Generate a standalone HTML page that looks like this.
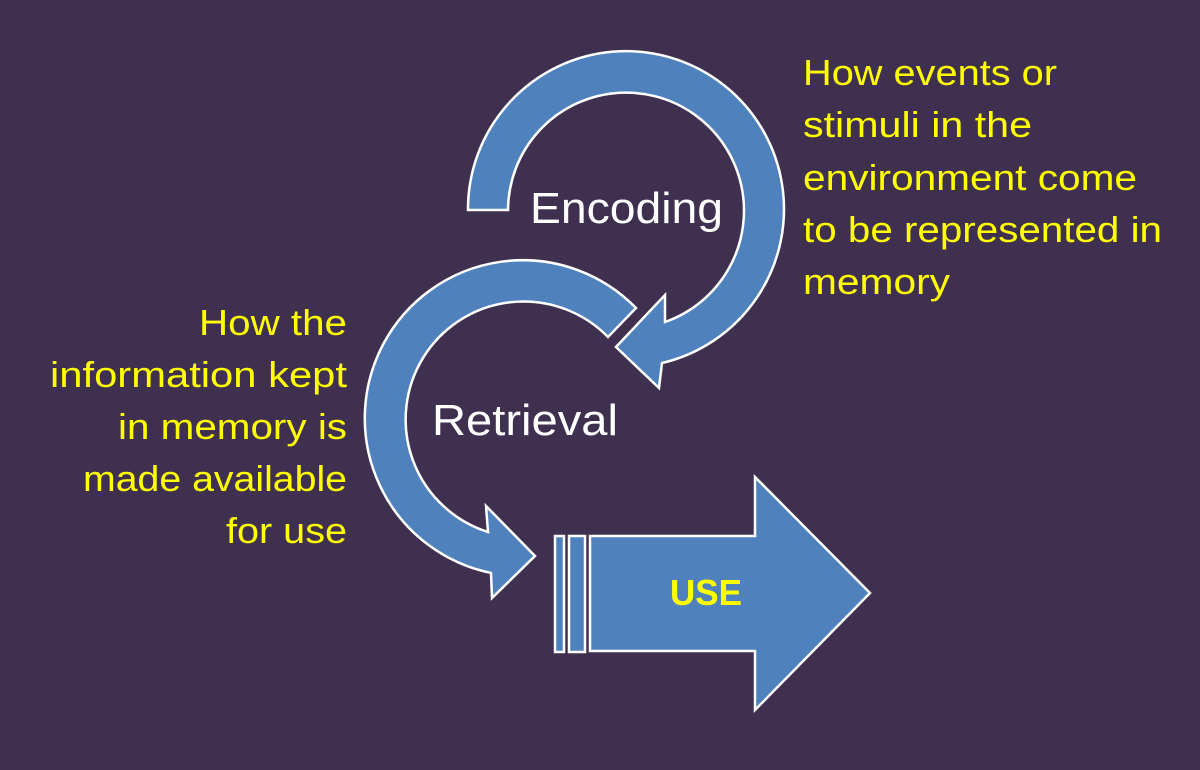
<!DOCTYPE html>
<html><head><style>
html,body{margin:0;padding:0;background:#3f3050;}
svg{display:block;}
text{font-family:"Liberation Sans",sans-serif;}
</style></head><body>
<svg width="1200" height="770" viewBox="0 0 1200 770" xmlns="http://www.w3.org/2000/svg">
<rect width="1200" height="770" fill="#3f3050"/>
<g fill="#4f81bd" stroke="#ffffff" stroke-width="2.5" stroke-linejoin="miter">
<path d="M468,210 A158,158 0 1 1 662,363 L659,388 L616,347 L665,295 L665,322 A118,118 0 1 0 508,210 Z"/>
<path d="M636,308 A158,158 0 1 0 491,573 L492,598 L535,556 L486,506 L488,532 A118,118 0 1 1 608,337 Z"/>
<rect x="555" y="536" width="9" height="116"/>
<rect x="569" y="536" width="16" height="116"/>
<path d="M590,536 L755,536 L755,477 L870,593 L755,710 L755,651 L590,651 Z"/>
</g>
<g fill="#ffffff" font-size="44">
<text x="530" y="223" textLength="193" lengthAdjust="spacingAndGlyphs">Encoding</text>
<text x="432" y="435" textLength="186" lengthAdjust="spacingAndGlyphs">Retrieval</text>
</g>
<text x="670" y="605" fill="#ffff00" font-size="36" font-weight="bold" textLength="72" lengthAdjust="spacingAndGlyphs">USE</text>
<g fill="#ffff00" font-size="36">
<text x="803" y="85" textLength="254" lengthAdjust="spacingAndGlyphs">How events or</text>
<text x="803" y="137" textLength="229" lengthAdjust="spacingAndGlyphs">stimuli in the</text>
<text x="803" y="190" textLength="334" lengthAdjust="spacingAndGlyphs">environment come</text>
<text x="803" y="242" textLength="359" lengthAdjust="spacingAndGlyphs">to be represented in</text>
<text x="803" y="294" textLength="147" lengthAdjust="spacingAndGlyphs">memory</text>
<text x="199" y="335" textLength="148" lengthAdjust="spacingAndGlyphs">How the</text>
<text x="50" y="387" textLength="297" lengthAdjust="spacingAndGlyphs">information kept</text>
<text x="118" y="439" textLength="229" lengthAdjust="spacingAndGlyphs">in memory is</text>
<text x="83" y="491" textLength="264" lengthAdjust="spacingAndGlyphs">made available</text>
<text x="226" y="543" textLength="121" lengthAdjust="spacingAndGlyphs">for use</text>
</g>
</svg>
</body></html>
